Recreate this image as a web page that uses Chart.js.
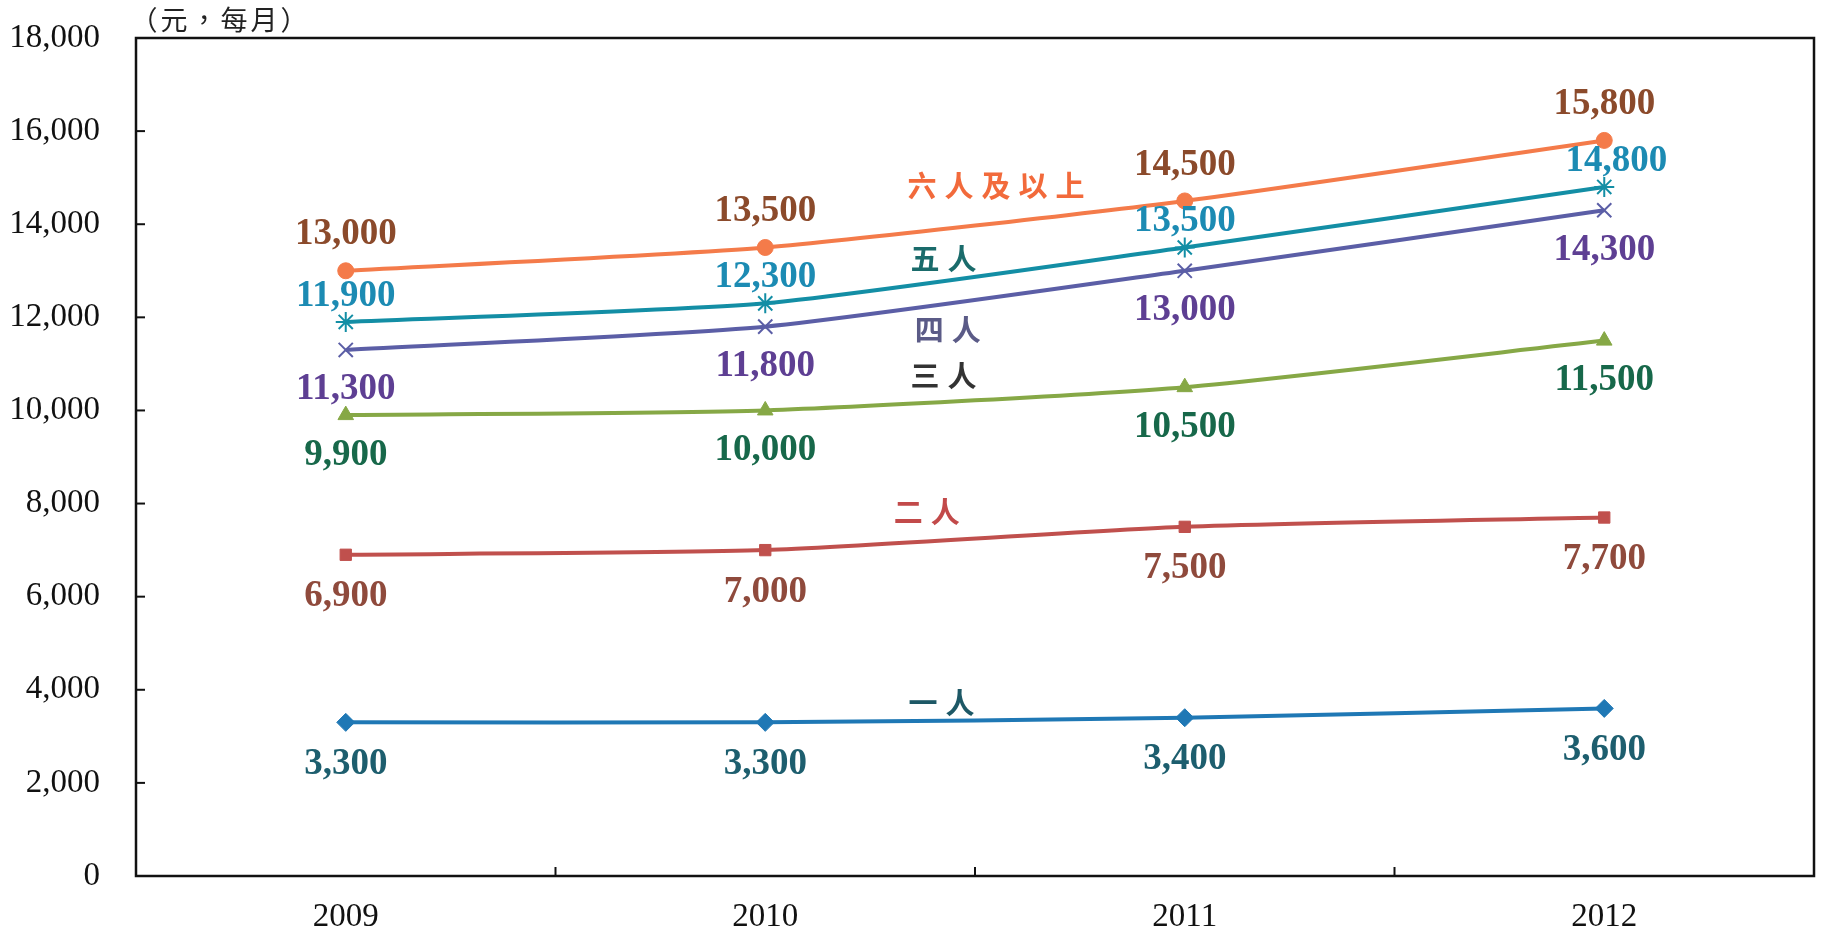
<!DOCTYPE html>
<html><head><meta charset="utf-8">
<script src="https://cdn.jsdelivr.net/npm/chart.js@4.4.1/dist/chart.umd.min.js"></script>
<style>html,body{margin:0;padding:0;background:#fff;}#wrap{width:1826px;height:931px;}</style>
</head><body><div id="wrap"><canvas id="c" width="1826" height="931"></canvas></div>
<script>
const years = ['2009','2010','2011','2012'];
const yTicks = [0,2000,4000,6000,8000,10000,12000,14000,16000,18000];
const seriesNames = ['一人','二人','三人','四人','五人','六人及以上'];
const one   = [3300,3300,3400,3600];
const two   = [6900,7000,7500,7700];
const three = [9900,10000,10500,11500];
const four  = [11300,11800,13000,14300];
const five  = [11900,12300,13500,14800];
const six   = [13000,13500,14500,15800];
const unitLabel = '（元，每月）';
// series name label anchor (category index, value)
const nameAnchorX = [1.42,1.385,1.425,1.435,1.425,1.55];
const nameAnchorY = [3716,7818,10739,11727,13250,14820];

const styles = [
 {c:'#1f78b5', ps:'rectRot', r:9, lab:'#1d5e6e', name:'#1d5866', dy:42, dx:[0,0,0,0]},
 {c:'#c0504d', ps:'rect', r:8, lab:'#8f4a3c', name:'#c24a4a', dy:42, dx:[0,0,0,0]},
 {c:'#86a846', ps:'triangle', r:9, lab:'#17684a', name:'#333333', dy:40, dx:[0,0,0,0]},
 {c:'#5b5ea6', ps:'crossRot', r:10, lab:'#5e3f93', name:'#5b5b87', dy:40, dx:[0,0,0,0]},
 {c:'#138ea5', ps:'star', r:10, lab:'#1c8bb3', name:'#1a6b6b', dy:-26, dx:[0,0,0,12]},
 {c:'#f47b4a', ps:'circle', r:8, lab:'#8b4a2b', name:'#f26a3b', dy:-36, dx:[0,0,0,0]}
];
const allData = [one,two,three,four,five,six];

const datasets = allData.map((d,i)=>({
  label: seriesNames[i], data: d,
  borderColor: styles[i].c, backgroundColor: styles[i].c,
  borderWidth: 4, pointStyle: styles[i].ps, pointRadius: styles[i].r,
  pointBorderWidth: (styles[i].ps==='crossRot'||styles[i].ps==='star')?2:1,
  pointBorderColor: styles[i].c, pointBackgroundColor: styles[i].c,
  tension: 0.2, clip: false
}));

const fmt = v => v.toLocaleString('en-US');

const decor = {
  id:'decor',
  afterDatasetsDraw(chart){
    const ctx = chart.ctx, ca = chart.chartArea;
    const xs = chart.scales.x, ys = chart.scales.y;
    ctx.save();
    ctx.strokeStyle = '#111'; ctx.lineWidth = 2.5;
    ctx.strokeRect(ca.left, ca.top, ca.right-ca.left, ca.bottom-ca.top);
    ctx.lineWidth = 2;
    yTicks.forEach(v=>{ const y = ys.getPixelForValue(v);
      ctx.beginPath(); ctx.moveTo(ca.left,y); ctx.lineTo(ca.left+9,y); ctx.stroke(); });
    for(let k=0;k<years.length-1;k++){
      const x = (xs.getPixelForValue(k)+xs.getPixelForValue(k+1))/2;
      ctx.beginPath(); ctx.moveTo(x,ca.bottom); ctx.lineTo(x,ca.bottom-9); ctx.stroke();
    }
    ctx.font = 'bold 37px "Liberation Serif", "DejaVu Serif", serif';
    ctx.textAlign = 'center'; ctx.textBaseline = 'middle';
    allData.forEach((d,i)=>{
      ctx.fillStyle = styles[i].lab;
      d.forEach((v,j)=>{
        ctx.fillText(fmt(v), xs.getPixelForValue(j)+styles[i].dx[j], ys.getPixelForValue(v)+styles[i].dy);
      });
    });
    ctx.font = 'bold 29px "Noto Sans CJK TC", sans-serif';
    seriesNames.forEach((n,i)=>{
      const x0 = xs.getPixelForValue(0), x1 = xs.getPixelForValue(1);
      const x = x0 + (x1-x0)*nameAnchorX[i];
      const y = ys.getPixelForValue(nameAnchorY[i]);
      ctx.fillStyle = styles[i].name;
      const chars = [...n]; const sp = 37;
      const w = sp*(chars.length-1);
      chars.forEach((ch,k)=>ctx.fillText(ch, x - w/2 + k*sp, y));
    });
    ctx.fillStyle = '#222';
    ctx.font = '27px "Noto Sans CJK TC", sans-serif';
    const uc = [...unitLabel]; const usp = 30;
    uc.forEach((ch,k)=>ctx.fillText(ch, ca.left + 8 + k*usp, ca.top-18));
    ctx.restore();
  }
};

new Chart(document.getElementById('c'), {
  type:'line',
  data:{labels: years, datasets},
  options:{
    responsive:false, animation:false, devicePixelRatio:1,
    layout:{padding:{top:38, right:0, left:0, bottom:0}},
    plugins:{legend:{display:false}, tooltip:{enabled:false}},
    scales:{
      x:{ offset:true,
          grid:{display:false, drawTicks:false},
          border:{display:false},
          ticks:{color:'#111', padding:22, font:{family:'"Liberation Serif", serif', size:33}},
          afterFit(s){ s.height = 55; s.paddingLeft = 0; s.paddingRight = 0; } },
      y:{ min:0, max:18000,
          afterBuildTicks(s){ s.ticks = yTicks.map(v=>({value:v})); },
          grid:{display:false, drawTicks:false},
          border:{display:false},
          ticks:{color:'#111', padding:36, font:{family:'"Liberation Serif", serif', size:33},
                 callback:v=>fmt(v)},
          afterFit(s){ s.width = 136; s.paddingTop = 0; s.paddingBottom = 0; } }
    }
  },
  plugins:[decor]
});
</script></body></html>
